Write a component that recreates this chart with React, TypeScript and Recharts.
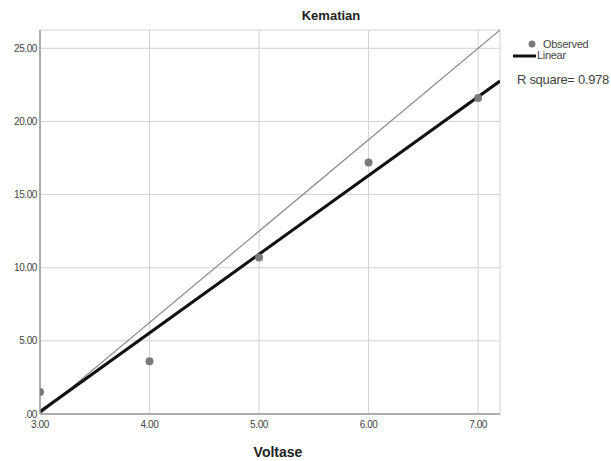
import { ComposedChart, Scatter, Line, XAxis, YAxis, CartesianGrid } from "recharts";

const voltase = [3, 4, 5, 6, 7];
const kematian = [1.5, 3.6, 10.7, 17.2, 21.6];
const xTicks = [3, 4, 5, 6, 7];
const yTicks = [0, 5, 10, 15, 20, 25];
// end points
const linearFit = [
  { x: 3, y: 0.16 },
  { x: 7.2, y: 22.76 },
];
const referenceLine = [
  { x: 3, y: 0 },
  { x: 7.2, y: 26.25 },
];

const observed = voltase.map((x, i) => ({ x, y: kematian[i] }));

const tickFmt = (v: number) => (v === 0 ? ".00" : v.toFixed(2));
const tickFont = { fill: "#444", fontSize: 10, letterSpacing: -0.4, fontFamily: "'Liberation Sans', Arial, sans-serif" };

const Dot = (props: any) => <circle cx={props.cx} cy={props.cy} r={4} fill="#7a7a7a" />;

const legendText = { position: "absolute" as const, fontSize: 11, color: "#444", whiteSpace: "nowrap" as const, letterSpacing: -0.3 };

const App = () => {
  return (
    <div style={{ position: "absolute", left: 0, top: 0, width: 611, height: 461, background: "#fff", fontFamily: "'Liberation Sans', Arial, sans-serif" }}>
      <div style={{ position: "absolute", left: 0, width: 662, top: 8, textAlign: "center", fontSize: 13, fontWeight: 700, color: "#222" }}>Kematian</div>
      <ComposedChart width={611} height={461} margin={{ top: 30, right: 111, bottom: 0, left: 0 }}>
        <CartesianGrid stroke="#d2d2d2" strokeWidth={1} />
        <XAxis
          type="number"
          dataKey="x"
          domain={[3, 7.2]}
          ticks={xTicks}
          allowDataOverflow
          tickFormatter={tickFmt}
          tick={tickFont}
          tickLine={false}
          tickSize={4}
          tickMargin={3}
          axisLine={{ stroke: "#9a9a9a", strokeWidth: 1.5 }}
          height={47}
        />
        <YAxis
          type="number"
          dataKey="y"
          domain={[0, 26.25]}
          ticks={yTicks}
          allowDataOverflow
          tickFormatter={tickFmt}
          tick={tickFont}
          tickLine={false}
          tickSize={2}
          tickMargin={1}
          axisLine={{ stroke: "#9a9a9a", strokeWidth: 1.5 }}
          width={40}
        />
        <Scatter data={observed} dataKey="y" shape={<Dot />} isAnimationActive={false} />
        <Line data={referenceLine} dataKey="y" type="linear" stroke="#8a8a8a" strokeWidth={1.2} dot={false} isAnimationActive={false} />
        <Line data={linearFit} dataKey="y" type="linear" stroke="#111" strokeWidth={3} dot={false} isAnimationActive={false} />
      </ComposedChart>
      <div style={{ position: "absolute", left: 238, width: 80, top: 444, textAlign: "center", fontSize: 14, fontWeight: 700, color: "#222" }}>Voltase</div>
      <svg style={{ position: "absolute", left: 510, top: 36 }} width={30} height={30}>
        <circle cx={22} cy={8} r={3.5} fill="#7a7a7a" />
        <line x1={3} y1={20} x2={26} y2={20} stroke="#111" strokeWidth={3} />
      </svg>
      <div style={{ ...legendText, left: 543, top: 38 }}>Observed</div>
      <div style={{ ...legendText, left: 537, top: 49 }}>Linear</div>
      <div style={{ ...legendText, left: 517, top: 72, fontSize: 13 }}>R square= 0.978</div>
    </div>
  );
};

export default App;
